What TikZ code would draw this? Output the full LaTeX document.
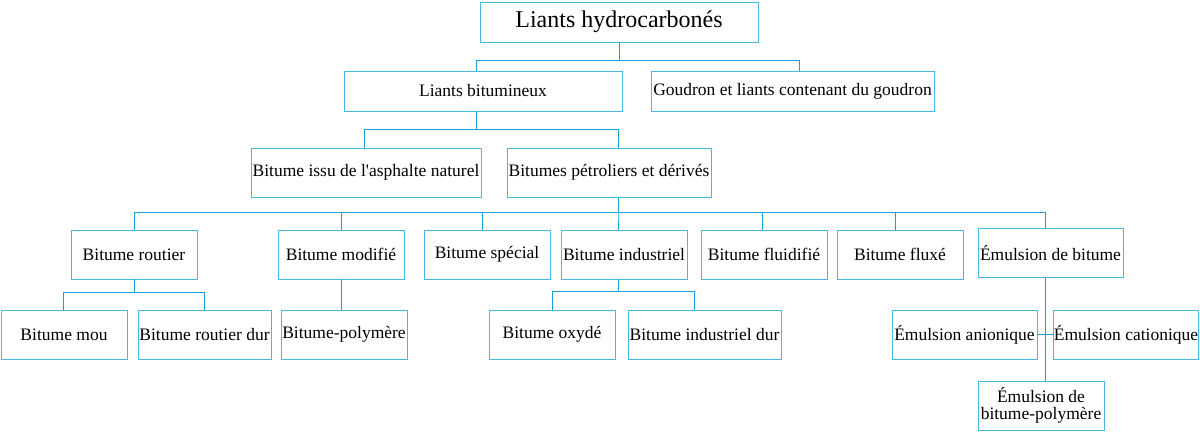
\documentclass[tikz,border=0pt]{standalone}
\usepackage{fontspec}
\setmainfont{Liberation Serif}
\usepackage{xcolor}
\definecolor{boxcol}{RGB}{70,185,228}
\definecolor{linkcol}{RGB}{20,160,215}

\begin{document}
\begin{tikzpicture}[x=1pt,y=-1pt,line cap=rect,
  box/.style={draw=boxcol,line width=1pt,inner sep=0pt,minimum width=126pt,minimum height=49pt,font=\fontsize{17.5}{19}\selectfont},
  link/.style={draw=linkcol,line width=1pt}]
\useasboundingbox (0,0) rectangle (1200,432);
% level 0 and 1
\node[box,minimum width=278pt,minimum height=40pt,font=\fontsize{24}{26}\selectfont] (root) at (619,22) {Liants hydrocarbonés};
\node[box,minimum width=278pt,minimum height=40pt] (lb) at (483,91) {Liants bitumineux};
\node[box,minimum width=283pt,minimum height=40pt] (gd) at (792.5,91) {Goudron et liants contenant du goudron};
% level 2
\node[box,minimum width=230pt] (an) at (366,172.5) {Bitume issu de l\textquotesingle asphalte naturel};
\node[box,minimum width=204pt] (bp) at (609,172.5) {Bitumes pétroliers et dérivés};
% level 3
\node[box] (br) at (134,254.5) {Bitume routier};
\node[box] (bm) at (341,254.5) {Bitume modifié};
\node[box] (bs) at (487,254.5) {Bitume spécial};
\node[box] (bi) at (624,254.5) {Bitume industriel};
\node[box] (bfl) at (764,254.5) {Bitume fluidifié};
\node[box] (bfx) at (900,254.5) {Bitume fluxé};
\node[box,minimum width=145pt] (eb) at (1050.5,253) {Émulsion de bitume};
% level 4
\node[box] (bmo) at (64,334.5) {Bitume mou};
\node[box,minimum width=133pt] (brd) at (204.5,334.5) {Bitume routier dur};
\node[box] (bpo) at (344,334.5) {Bitume-polymère};
\node[box] (box) at (552,334.5) {Bitume oxydé};
\node[box,minimum width=153pt] (bid) at (704.5,334.5) {Bitume industriel dur};
\node[box,minimum width=145pt] (ea) at (964.5,334.5) {Émulsion anionique};
\node[box,minimum width=144pt] (ec) at (1126,334.5) {Émulsion cationique};
\node[box,align=center,font=\fontsize{17.5}{17}\selectfont] (ep) at (1041,405.5) {Émulsion de\\bitume-polymère};
% connectors
\draw[link] (root.south) -- ++(0,18) -| ([xshift=-7pt]lb.north);
\draw[link] (root.south) -- ++(0,18) -| ([xshift=6.5pt]gd.north);
\draw[link] ([xshift=-7pt]lb.south) -- ++(0,18) -| ([xshift=-2pt]an.north);
\draw[link] ([xshift=-7pt]lb.south) -- ++(0,18) -| ([xshift=9pt]bp.north);
\draw[link] ([xshift=9pt]bp.south) -- ++(0,15) -| (br.north);
\draw[link] ([xshift=9pt]bp.south) -- ++(0,15) -| (bm.north);
\draw[link] ([xshift=9pt]bp.south) -- ++(0,15) -| ([xshift=-5pt]bs.north);
\draw[link] ([xshift=9pt]bp.south) -- ++(0,15) -| ([xshift=-6pt]bi.north);
\draw[link] ([xshift=9pt]bp.south) -- ++(0,15) -| ([xshift=-2pt]bfl.north);
\draw[link] ([xshift=9pt]bp.south) -- ++(0,15) -| ([xshift=-5pt]bfx.north);
\draw[link] ([xshift=9pt]bp.south) -- ++(0,15) -| ([xshift=-5.5pt]eb.north);
\draw[link] (br.south) -- ++(0,13) -| ([xshift=-1pt]bmo.north);
\draw[link] (br.south) -- ++(0,13) -| (brd.north);
\draw[link] (bm.south) -- (bm.south |- bpo.north);
\draw[link] ([xshift=-6pt]bi.south) -- ++(0,12) -| (box.north);
\draw[link] ([xshift=-6pt]bi.south) -- ++(0,12) -| ([xshift=-10.5pt]bid.north);
\draw[link] ([xshift=-5.5pt]eb.south) -- ([xshift=-5.5pt]eb.south |- ep.north);
\draw[link] (ea.east) -- (ec.west);
\end{tikzpicture}
\end{document}
